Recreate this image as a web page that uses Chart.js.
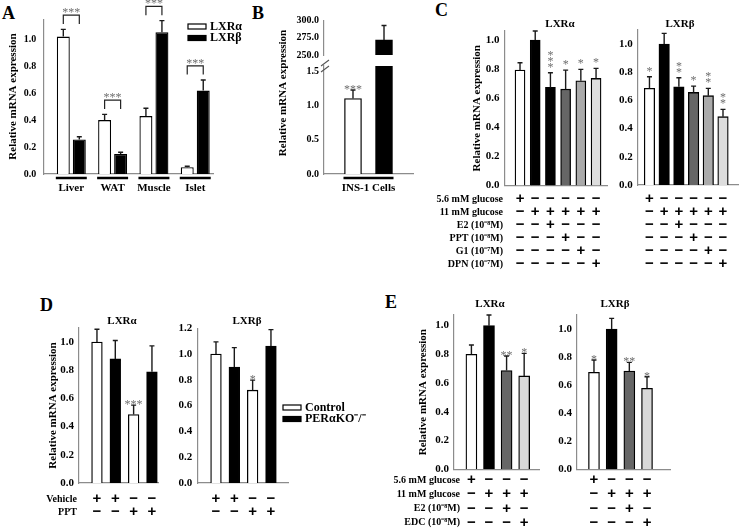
<!DOCTYPE html>
<html lang="en">
<head>
<meta charset="utf-8">
<title>LXR mRNA expression</title>
<script src="https://cdn.jsdelivr.net/npm/chart.js@4.4.1/dist/chart.umd.min.js"></script>
<style>
  html, body { margin: 0; padding: 0; background: #fff; }
  body { position: relative; width: 740px; height: 529px; overflow: hidden; }
  canvas { position: absolute; }
  .tag { position: absolute; font: bold 18px "Liberation Serif", serif; line-height: 1; }
</style>
</head>
<body>
<div class="tag" style="left:2px;top:4px">A</div>
<div class="tag" style="left:252px;top:4px">B</div>
<div class="tag" style="left:435px;top:1px">C</div>
<div class="tag" style="left:40px;top:296px">D</div>
<div class="tag" style="left:385px;top:293px">E</div>
<script>
const SERIF = '"Liberation Serif", "Times New Roman", serif';
const SIGN_FONT = 'bold 15px "Liberation Sans", sans-serif';
const AXIS = '#8c8c8c';
const STAR = '#6e6e6e';

// ── A) tissues ─────────────────────────────────────────────
const tissues = ['Liver', 'WAT', 'Muscle', 'Islet'];
const tissueAlpha = [1.02, 0.40, 0.43, 0.05];
const tissueAlphaErr = [0.054, 0.043, 0.058, 0.007];
const tissueBeta = [0.257, 0.149, 1.052, 0.619];
const tissueBetaErr = [0.02, 0.012, 0.087, 0.079];
const tissueStars = ['***', '***', '***', '***'];

// ── B) INS-1 cells ─────────────────────────────────────────
const insCells = 'INS-1 Cells';
const insGenes = ['LXRα', 'LXRβ'];
const insValues = [1.10, 272];
const insErr = [0.125, 21];
const insStars = ['***', ''];

// ── C) glucose + estrogen receptor agonists ───────────────
const cRows = ['5.6 mM glucose', '11 mM glucose', 'E2 (10⁻⁸M)', 'PPT (10⁻⁸M)', 'G1 (10⁻⁷M)', 'DPN (10⁻⁷M)'];
const cSigns = [
  ['+', '−', '−', '−', '−', '−'],
  ['−', '+', '+', '+', '+', '+'],
  ['−', '−', '+', '−', '−', '−'],
  ['−', '−', '−', '+', '−', '−'],
  ['−', '−', '−', '−', '+', '−'],
  ['−', '−', '−', '−', '−', '+'],
];
const cAlpha = [0.793, 1.00, 0.674, 0.662, 0.72, 0.736];
const cAlphaErr = [0.051, 0.062, 0.101, 0.131, 0.078, 0.069];
const cAlphaStars = ['', '', '***', '*', '*', '*'];
const cBeta = [0.686, 1.00, 0.697, 0.657, 0.634, 0.485];
const cBetaErr = [0.082, 0.076, 0.064, 0.045, 0.052, 0.052];
const cBetaStars = ['*', '', '**', '*', '**', '**'];

// ── D) PERαKO islets ───────────────────────────────────────
const dGroups = ['Control', 'PERαKO⁻/⁻'];
const dGenotype = [0, 1, 0, 1];
const dRows = ['Vehicle', 'PPT'];
const dSigns = [['+', '+', '−', '−'], ['−', '−', '+', '+']];
const dAlpha = [1.00, 0.88, 0.486, 0.789];
const dAlphaErr = [0.09, 0.13, 0.066, 0.183];
const dAlphaStars = ['', '', '***', ''];
const dBeta = [1.00, 0.90, 0.72, 1.063];
const dBetaErr = [0.095, 0.15, 0.078, 0.127];
const dBetaStars = ['', '', '*', ''];

// ── E) E2 vs. EDC ──────────────────────────────────────────
const eRows = ['5.6 mM glucose', '11 mM glucose', 'E2 (10⁻⁸M)', 'EDC (10⁻⁸M)'];
const eSigns = [
  ['+', '−', '−', '−'],
  ['−', '+', '+', '+'],
  ['−', '−', '+', '−'],
  ['−', '−', '−', '+'],
];
const eAlpha = [0.80, 1.00, 0.687, 0.65];
const eAlphaErr = [0.065, 0.074, 0.102, 0.157];
const eAlphaStars = ['', '', '**', '*'];
const eBeta = [0.691, 1.00, 0.70, 0.577];
const eBetaErr = [0.088, 0.076, 0.062, 0.083];
const eBetaStars = ['*', '', '**', '*'];

// barvy sloupců (styl, ne data)
const cFill = ['#fff', '#000', '#000', '#666', '#aaa', '#ddd'];
const eFill = ['#fff', '#000', '#666', '#d9d9d9'];
const genoFill = ['#fff', '#000'];

const pts = (values) => values.map((v, i) => ({ x: i, y: v }));

// Chybové úsečky (jen horní) + hvězdičky nad nimi.
function errorLayer(vertical) {
  return {
    id: 'errorLayer',
    afterDatasetsDraw(chart) {
      const { ctx } = chart;
      const ys = chart.scales.y;
      ctx.save();
      chart.data.datasets.forEach((ds, di) => {
        chart.getDatasetMeta(di).data.forEach((bar, i) => {
          const v = ds.data[i].y;
          if (v < ys.min || v > ys.max) return;
          const top = ys.getPixelForValue(v + ds.errors[i]);
          ctx.strokeStyle = '#1a1a1a';
          ctx.lineWidth = 1.4;
          ctx.beginPath();
          ctx.moveTo(bar.x, bar.y);
          ctx.lineTo(bar.x, top);
          ctx.moveTo(bar.x - 2.5, top);
          ctx.lineTo(bar.x + 2.5, top);
          ctx.stroke();
          const s = ds.stars ? ds.stars[i] : '';
          if (!s) return;
          ctx.fillStyle = STAR;
          ctx.font = `12px ${SERIF}`;
          ctx.textAlign = 'center';
          ctx.textBaseline = 'alphabetic';
          if (vertical) {
            for (let k = 0; k < s.length; k++) ctx.fillText('*', bar.x, top - 2 - k * 6);
          } else {
            ctx.fillText(s, bar.x, top + 3);
          }
        });
      });
      ctx.restore();
    },
  };
}

// Popisky, tabulka +/−, legenda, podtržení skupin, závorky.
function decor(c) {
  return {
    id: 'decor',
    afterDraw(chart) {
      const { ctx, scales: { x, y } } = chart;
      const [bx, by] = c.box;
      ctx.save();
      ctx.fillStyle = '#000';
      ctx.textAlign = 'center';
      ctx.textBaseline = 'middle';

      if (c.heading) {
        ctx.font = `bold 11px ${SERIF}`;
        ctx.fillText(c.heading, c.headingX - bx, c.headingY - by);
      }

      if (c.table) {
        const t = c.table;
        t.signs.forEach((row, r) => {
          const yy = t.y0 + r * t.dy - by;
          ctx.font = SIGN_FONT;
          ctx.textAlign = 'center';
          row.forEach((s, i) => ctx.fillText(s, x.getPixelForValue(i), yy));
          if (t.rows) {
            ctx.font = `bold 10px ${SERIF}`;
            ctx.textAlign = 'right';
            ctx.fillText(t.rows[r], t.labelRight - bx, yy);
          }
        });
      }

      if (c.legend) {
        const L = c.legend;
        L.items.forEach((it, k) => {
          const yy = L.y0 + k * L.dy - by;
          ctx.fillStyle = it.fill;
          ctx.fillRect(L.x - bx, yy - 2.5, 18, 5);
          ctx.strokeStyle = '#000';
          ctx.lineWidth = 1.2;
          ctx.strokeRect(L.x - bx, yy - 2.5, 18, 5);
          ctx.fillStyle = '#000';
          ctx.font = `bold 12px ${SERIF}`;
          ctx.textAlign = 'left';
          ctx.fillText(it.label, L.x - bx + 22, yy);
        });
      }

      if (c.underline) {
        ctx.strokeStyle = '#000';
        ctx.lineWidth = 2.5;
        c.underline.forEach((idx) => {
          const bars = [];
          chart.data.datasets.forEach((ds, di) => bars.push(chart.getDatasetMeta(di).data[idx[0]]));
          idx.slice(1).forEach((j) => bars.push(chart.getDatasetMeta(0).data[j]));
          const lefts = bars.map((b) => b.x - b.width / 2);
          const rights = bars.map((b) => b.x + b.width / 2);
          ctx.beginPath();
          ctx.moveTo(Math.min(...lefts) - 1, c.underlineY - by);
          ctx.lineTo(Math.max(...rights) + 1, c.underlineY - by);
          ctx.stroke();
        });
      }

      if (c.brackets) {
        const m0 = chart.getDatasetMeta(0).data;
        const m1 = chart.getDatasetMeta(1).data;
        const d0 = chart.data.datasets[0];
        const d1 = chart.data.datasets[1];
        m0.forEach((b0, i) => {
          const m = Math.max(d0.data[i].y + d0.errors[i], d1.data[i].y + d1.errors[i]);
          const leg = y.getPixelForValue(m + 0.04);
          const top = y.getPixelForValue(m + 0.105);
          ctx.strokeStyle = '#222';
          ctx.lineWidth = 1.2;
          ctx.beginPath();
          ctx.moveTo(b0.x, leg);
          ctx.lineTo(b0.x, top);
          ctx.lineTo(m1[i].x, top);
          ctx.lineTo(m1[i].x, leg);
          ctx.stroke();
          ctx.fillStyle = STAR;
          ctx.font = `12px ${SERIF}`;
          ctx.textAlign = 'center';
          ctx.textBaseline = 'alphabetic';
          ctx.fillText(c.brackets[i], (b0.x + m1[i].x) / 2, top + 1);
        });
      }

      if (c.vTitle) {
        ctx.save();
        ctx.translate(c.vTitle.x - bx, c.vTitle.y - by);
        ctx.rotate(-Math.PI / 2);
        ctx.fillStyle = '#000';
        ctx.font = `bold 11px ${SERIF}`;
        ctx.textAlign = 'center';
        ctx.textBaseline = 'middle';
        ctx.fillText(c.vTitle.text, 0, 0);
        ctx.restore();
      }

      if (c.breaks) {
        ctx.strokeStyle = '#555';
        ctx.lineWidth = 1.1;
        ctx.beginPath();
        c.breaks.forEach(([x1, y1, x2, y2]) => {
          ctx.moveTo(x1 - bx, y1 - by);
          ctx.lineTo(x2 - bx, y2 - by);
        });
        ctx.stroke();
      }
      ctx.restore();
    },
  };
}

function makeChart(c) {
  const [bx, by, bw, bh] = c.box;
  const [al, at, ar, ab] = c.area;
  const canvas = document.createElement('canvas');
  canvas.width = bw;
  canvas.height = bh;
  canvas.style.left = bx + 'px';
  canvas.style.top = by + 'px';
  document.body.appendChild(canvas);
  const bold = (size) => ({ family: SERIF, size, weight: 'bold' });
  return new Chart(canvas, {
    type: 'bar',
    data: { datasets: c.datasets },
    options: {
      responsive: false,
      animation: false,
      events: [],
      layout: { padding: { left: 0, top: at - by, right: bx + bw - ar, bottom: 0 } },
      plugins: { legend: { display: false }, tooltip: { enabled: false } },
      scales: {
        x: {
          type: 'linear',
          offset: false,
          min: c.xMin,
          max: c.xMax,
          grid: { display: false, drawTicks: false, offset: false },
          border: { display: c.xBorder !== false, color: AXIS, width: 1.2 },
          afterBuildTicks: (s) => { s.ticks = Array.from({ length: c.count }, (_, i) => ({ value: i })); },
          ticks: {
            display: !!c.xLabels, autoSkip: false, maxRotation: 0, padding: 8,
            color: '#000', font: bold(11),
            callback: (v) => (c.xLabels ? c.xLabels[v] : ''),
          },
          title: { display: !!c.xTitle, text: c.xTitle || '', color: '#000', font: bold(11), padding: { top: 0, bottom: 5 } },
          afterFit: (s) => { s.height = by + bh - ab; },
        },
        y: {
          min: c.yMin || 0,
          max: c.yMax,
          grid: { display: false, drawTicks: false },
          border: { color: AXIS, width: 1.2 },
          ticks: {
            stepSize: c.yStep, includeBounds: false, padding: c.tickPad || 5,
            color: '#000', font: bold(c.tickSize || 11),
            callback: (v) => v.toFixed(1),
          },
          title: {
            display: !!c.yTitleX, text: 'Relative mRNA expression', color: '#000', font: bold(11),
            padding: { top: (c.yTitleX || 0) - bx - 6.6, bottom: 0 },
          },
          afterFit: (s) => { s.width = al - bx; },
        },
      },
    },
    plugins: [errorLayer(c.verticalStars), decor(c)],
  });
}

const barStyle = { borderColor: '#000', borderWidth: 1.3, borderSkipped: 'bottom' };

// ── A ──
makeChart({
  box: [0, 0, 250, 200], area: [43.3, 19.1, 213, 174],
  yMax: 1.15, yStep: 0.2, tickSize: 10, tickPad: 7, yTitleX: 13,
  xMin: -0.678, xMax: 3.43, count: tissues.length, xLabels: tissues,
  datasets: [
    { label: insGenes[0], data: pts(tissueAlpha), errors: tissueAlphaErr, backgroundColor: '#fff', categoryPercentage: 0.775, barPercentage: 0.81, ...barStyle },
    { label: insGenes[1], data: pts(tissueBeta), errors: tissueBetaErr, backgroundColor: '#000', categoryPercentage: 0.775, barPercentage: 0.81, ...barStyle },
  ],
  brackets: tissueStars,
  underline: tissues.map((_, i) => [i]),
  underlineY: 178,
  legend: { x: 188, y0: 26.5, dy: 11.5, items: insGenes.map((g, i) => ({ label: g, fill: genoFill[i] })) },
});

// ── B (přerušená osa: horní a dolní část) ──
makeChart({
  box: [250, 0, 165, 66], area: [324, 20.7, 413, 61.7],
  yMin: 250, yMax: 300, yStep: 25, tickSize: 10, tickPad: 5,
  xMin: -0.935, xMax: 1.935, count: 2, xBorder: false,
  datasets: [{ data: pts(insValues), errors: insErr, stars: insStars, backgroundColor: genoFill, barThickness: 17, ...barStyle }],
});
makeChart({
  box: [250, 0, 165, 200], area: [324, 66, 413, 174],
  yMax: 1.574, yStep: 0.5, tickSize: 10, tickPad: 5,
  xMin: -0.935, xMax: 1.935, count: 2, xTitle: insCells,
  datasets: [{ data: pts(insValues), errors: insErr, stars: insStars, backgroundColor: genoFill, barThickness: 17, ...barStyle }],
  vTitle: { text: 'Relative mRNA expression', x: 283, y: 93 },
  underline: [[0, 1]], underlineY: 178,
  breaks: [[321, 66, 329, 60], [321, 72, 329, 66]],
});

// ── C ──
makeChart({
  box: [380, 0, 232, 275], area: [504.5, 31, 607, 185.5],
  yMax: 1.062, yStep: 0.2, yTitleX: 477,
  xMin: -1.02, xMax: 5.72, count: cAlpha.length, verticalStars: true,
  datasets: [{ data: pts(cAlpha), errors: cAlphaErr, stars: cAlphaStars, backgroundColor: cFill, barThickness: 10, ...barStyle }],
  heading: 'LXRα', headingX: 560, headingY: 24,
  table: { signs: cSigns, rows: cRows, y0: 199.3, dy: 13, labelRight: 503 },
});
makeChart({
  box: [612, 0, 128, 275], area: [637.7, 30, 738, 185],
  yMax: 1.10, yStep: 0.2,
  xMin: -0.8, xMax: 6.02, count: cBeta.length, verticalStars: true,
  datasets: [{ data: pts(cBeta), errors: cBetaErr, stars: cBetaStars, backgroundColor: cFill, barThickness: 10.5, ...barStyle }],
  heading: 'LXRβ', headingX: 680, headingY: 24,
  table: { signs: cSigns, y0: 199.3, dy: 13 },
});

// ── D ──
const dFill = dGenotype.map((g) => genoFill[g]);
makeChart({
  box: [0, 300, 165, 229], area: [79, 328, 158, 483],
  yMax: 1.099, yStep: 0.2, yTitleX: 53,
  xMin: -0.98, xMax: 3.33, count: dAlpha.length,
  datasets: [{ data: pts(dAlpha), errors: dAlphaErr, stars: dAlphaStars, backgroundColor: dFill, barThickness: 10.7, ...barStyle }],
  heading: 'LXRα', headingX: 122, headingY: 321,
  table: { signs: dSigns, rows: dRows, y0: 499, dy: 13, labelRight: 77 },
});
makeChart({
  box: [165, 300, 205, 229], area: [197.3, 328.3, 288, 483],
  yMax: 1.2, yStep: 0.2,
  xMin: -1.02, xMax: 3.93, count: dBeta.length,
  datasets: [{ data: pts(dBeta), errors: dBetaErr, stars: dBetaStars, backgroundColor: dFill, barThickness: 10.7, ...barStyle }],
  heading: 'LXRβ', headingX: 247, headingY: 321,
  table: { signs: dSigns, y0: 499, dy: 13 },
  legend: { x: 283, y0: 407.5, dy: 11.5, items: dGroups.map((g, i) => ({ label: g, fill: genoFill[i] })) },
});

// ── E ──
makeChart({
  box: [380, 295, 160, 234], area: [454, 315, 540, 469.3],
  yMax: 1.074, yStep: 0.2, yTitleX: 423,
  xMin: -0.99, xMax: 3.9, count: eAlpha.length,
  datasets: [{ data: pts(eAlpha), errors: eAlphaErr, stars: eAlphaStars, backgroundColor: eFill, barThickness: 11, ...barStyle }],
  heading: 'LXRα', headingX: 490, headingY: 304,
  table: { signs: eSigns, rows: eRows, y0: 480, dy: 14.3, labelRight: 460 },
});
makeChart({
  box: [540, 295, 200, 234], area: [577, 315, 670, 469.3],
  yMax: 1.1, yStep: 0.2,
  xMin: -0.96, xMax: 4.3, count: eBeta.length,
  datasets: [{ data: pts(eBeta), errors: eBetaErr, stars: eBetaStars, backgroundColor: eFill, barThickness: 11, ...barStyle }],
  heading: 'LXRβ', headingX: 615, headingY: 304,
  table: { signs: eSigns, y0: 480, dy: 14.3 },
});
</script>
</body>
</html>
